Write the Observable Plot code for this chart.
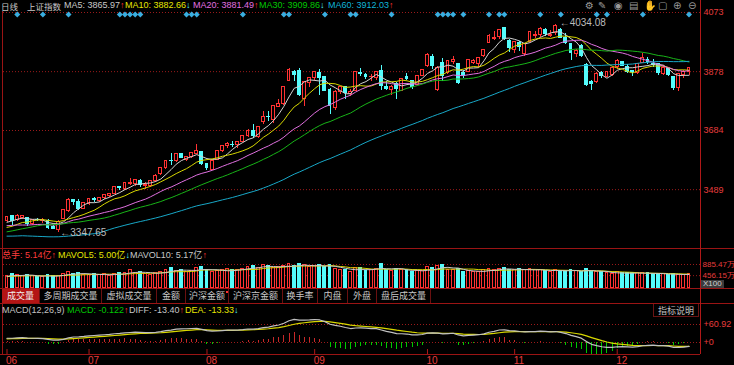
<!DOCTYPE html>
<html><head><meta charset="utf-8">
<script src="https://cdn.jsdelivr.net/npm/d3@7"></script>
<script src="https://cdn.jsdelivr.net/npm/@observablehq/plot@0.6"></script>
<style>
html,body{margin:0;padding:0;background:#000;}
#wrap{position:relative;width:734px;height:365px;overflow:hidden;background:#000;font-family:"Liberation Sans","Noto Sans CJK SC",sans-serif;font-size:9px;color:#c8c8c8;}
.t{position:absolute;white-space:nowrap;line-height:11px}
.ln{position:absolute;background:#9a1414}
.tab{position:absolute;top:289px;height:14px;line-height:14px;text-align:center;color:#c8c8c8;font-family:"Noto Sans CJK SC",sans-serif;font-size:9px;border-right:1px solid #6a1010;box-sizing:border-box}
</style></head>
<body><div id="wrap"></div>
<script>
const dates = [
"2025-06-09","2025-06-10","2025-06-11","2025-06-12","2025-06-13","2025-06-16","2025-06-17","2025-06-18","2025-06-19","2025-06-20","2025-06-23","2025-06-24","2025-06-25","2025-06-26","2025-06-27","2025-06-30",
"2025-07-01","2025-07-02","2025-07-03","2025-07-04","2025-07-07","2025-07-08","2025-07-09","2025-07-10","2025-07-11","2025-07-14","2025-07-15","2025-07-16","2025-07-17","2025-07-18","2025-07-21","2025-07-22","2025-07-23","2025-07-24","2025-07-25","2025-07-28","2025-07-29","2025-07-30","2025-07-31",
"2025-08-01","2025-08-04","2025-08-05","2025-08-06","2025-08-07","2025-08-08","2025-08-11","2025-08-12","2025-08-13","2025-08-14","2025-08-15","2025-08-18","2025-08-19","2025-08-20","2025-08-21","2025-08-22","2025-08-25","2025-08-26","2025-08-27","2025-08-28","2025-08-29",
"2025-09-01","2025-09-02","2025-09-03","2025-09-04","2025-09-05","2025-09-08","2025-09-09","2025-09-10","2025-09-11","2025-09-12","2025-09-15","2025-09-16","2025-09-17","2025-09-18","2025-09-19","2025-09-22","2025-09-23","2025-09-24","2025-09-25","2025-09-26","2025-09-29","2025-09-30",
"2025-10-09","2025-10-10","2025-10-13","2025-10-14","2025-10-15","2025-10-16","2025-10-17","2025-10-20","2025-10-21","2025-10-22","2025-10-23","2025-10-24","2025-10-27","2025-10-28","2025-10-29","2025-10-30","2025-10-31",
"2025-11-03","2025-11-04","2025-11-05","2025-11-06","2025-11-07","2025-11-10","2025-11-11","2025-11-12","2025-11-13","2025-11-14","2025-11-17","2025-11-18","2025-11-19","2025-11-20","2025-11-21","2025-11-24","2025-11-25","2025-11-26","2025-11-27","2025-11-28",
"2025-12-01","2025-12-02","2025-12-03","2025-12-04","2025-12-05","2025-12-08","2025-12-09","2025-12-10","2025-12-11","2025-12-12","2025-12-15","2025-12-16","2025-12-17","2025-12-18","2025-12-19"];

const open = [
3386,3401,3388,3396,3395,3375,3389,3385,3387,3365,3357,3393,3420,3456,3447,3425,
3442,3457,3452,3461,3469,3474,3497,3492,3509,3508,3519,3502,3500,3517,3540,3560,3585,3585,3605,3588,3596,3608,3613,
3572,3555,3588,3617,3633,3637,3637,3646,3665,3684,3661,3712,3730,3720,3763,3771,3848,3877,3879,3789,3841,
3858,3874,3861,3817,3758,3812,3827,3803,3815,3875,3867,3861,3857,3880,3829,3818,3838,3813,3860,3848,3833,3865,
3898,3926,3818,3906,3874,3911,3904,3875,3877,3905,3904,3930,3973,3985,3993,4022,3980,
3950,3974,3935,3975,3995,3999,4016,3995,4005,4015,3989,3968,3935,3962,3900,3845,3845,3872,3860,3867,
3893,3911,3893,3880,3872,3906,3918,3904,3904,3869,3886,3860,3825,3866,3876];

const high = [
3400.5,3404,3408,3404.5,3397,3391,3393,3393,3389,3372,3386,3425,3460,3457,3458,3446,
3459,3462,3462,3474,3476,3497.5,3500,3510,3525,3522,3524,3513,3517,3538,3560,3582,3607,3606,3609,3598,3610,3637,3615,
3574,3583.5,3618,3635,3645,3647,3648,3669,3688,3704,3698,3746,3746,3767,3787,3826,3888,3882,3888,3845,3859,
3876,3886,3862,3821,3816,3829,3829,3818,3876,3888,3872,3868,3876,3899,3844,3831,3842,3853.6,3871,3849,3863,3885,
3937,3936,3894,3923,3913,3927,3905,3882,3916.5,3919,3923,3951,3999,4010,4016.5,4025,3985,
3977,3978,3972,4010,4010,4025,4019,4013,4034.08,4020,4004,3969,3950,3966,3904,3849,3875,3878,3879,3890,
3917,3913,3900,3882,3903,3937,3925,3919,3906,3899,3888,3862,3873,3881,3892];

const low = [
3382,3372,3385,3392,3368,3372,3384,3376,3358,3356,3347.65,3393,3413,3437,3421,3422,
3438,3448,3446,3455,3464,3472,3486,3485,3502,3500,3496,3491,3497,3514,3537,3554,3570,3580,3591,3581,3592,3607,3570,
3553,3552,3585,3613,3624,3627,3626,3644,3660,3658,3658,3705,3713,3706,3760,3766,3847,3845,3796,3763,3827,
3845,3800,3813,3736,3750,3804,3785,3795,3811,3862,3851,3844,3848,3815,3816,3801,3787,3811,3850,3820,3832,3862,
3891,3885,3811,3845,3870,3900,3835,3857,3877,3902,3893,3925,3970,3980,3985,3982,3941,
3938,3945,3928,3975,3988,3991,3993,3990,3998,3986,3966,3915,3925,3926,3830,3815,3840,3857,3859,3862,
3886,3894,3872,3862,3867,3905,3903,3893,3866,3865,3862,3815,3813,3857,3866];

const close = [
3399.77,3384.82,3402.32,3402.66,3377.00,3388.73,3387.40,3388.81,3362.11,3359.90,3381.58,3420.57,3455.97,3448.45,3424.23,3444.43,
3457.75,3454.79,3461.15,3472.32,3473.13,3497.48,3493.05,3509.68,3510.18,3519.65,3505.00,3503.78,3516.83,3534.48,3559.79,3581.86,3582.30,3605.73,3593.66,3597.94,3609.71,3615.72,3573.21,
3559.95,3583.31,3617.60,3633.99,3639.67,3635.13,3647.55,3665.92,3683.46,3666.44,3696.77,3728.03,3727.29,3766.21,3771.10,3825.76,3883.56,3868.38,3800.35,3843.60,3857.93,
3875.53,3858.13,3813.56,3765.88,3812.51,3826.84,3807.29,3812.22,3875.31,3870.60,3860.50,3861.87,3876.34,3831.66,3820.09,3828.58,3821.83,3853.64,3853.30,3828.11,3862.53,3882.78,
3933.97,3897.03,3889.50,3865.23,3912.21,3916.23,3839.76,3863.89,3916.33,3913.76,3922.41,3950.31,3996.94,3988.22,4016.33,3986.90,3954.79,
3976.52,3960.19,3969.25,4007.76,3997.56,4018.60,4002.76,4000.14,4029.50,3990.49,3972.03,3939.81,3946.74,3931.05,3834.89,3836.77,3870.02,3864.18,3875.26,3888.60,
3914.01,3897.71,3878.00,3875.79,3902.81,3924.08,3909.52,3900.50,3873.32,3889.35,3867.92,3824.81,3870.28,3876.37,3890.45];

const volume = [
4.6,5.2,4.8,4.4,5.0,4.3,4.0,4.2,4.7,4.5,4.6,5.3,5.8,5.3,5.4,5.0,
4.9,5.1,4.7,5.2,4.6,5.3,5.6,5.5,6.8,5.7,5.9,5.2,5.0,5.6,6.1,6.6,7.6,6.4,6.7,6.0,6.3,7.5,8.0,
6.6,5.8,6.2,6.6,7.0,6.7,6.8,7.3,7.9,8.4,7.5,8.6,8.3,7.6,7.7,8.3,9.0,8.2,8.9,8.6,7.8,
8.3,8.8,7.8,8.6,7.2,6.6,6.8,6.0,7.6,7.5,6.5,6.6,7.0,9.1,6.9,6.2,7.3,6.7,6.9,5.9,6.3,6.2,
7.8,7.4,8.3,8.5,6.8,6.6,7.2,5.9,6.3,5.9,6.0,6.8,7.3,6.9,7.2,7.4,6.9,
6.6,7.0,6.6,7.1,6.6,6.8,6.3,6.1,6.9,6.5,6.3,6.7,6.2,6.0,7.2,6.5,5.9,5.8,5.5,5.2,
5.8,5.6,5.5,5.4,5.5,5.6,5.5,5.3,5.2,5.1,4.9,5.2,5.0,4.76,5.14];

const priorClose = [
3366.16,3379.83,3371.92,3358.73,3419.56,3426.43,3429.76,3426.43,3408.95,3364.83,3370.03,3369.98,3368.70,3373.75,3351.31,3335.75,
3348.44,3350.13,3342.01,3096.58,3145.55,3186.81,3223.64,3238.23,3262.81,3267.66,3276.00,3280.34,3276.73,3291.43,3299.76,3296.36,3297.29,3295.06,3288.41,3286.65,3279.03,
3316.11,3342.67,3352.00,3341.97,3369.24,3374.87,3403.95,3380.82,3367.46,3367.58,3380.48,3387.57,3380.19,3348.37,3346.84,3340.69,3339.93,3363.45,3347.49,
3361.98,3376.20,3384.10,3385.36];
const priorVolume = [4.0,4.2,3.9,4.1,4.3,4.0,4.4,4.3,4.2];

const markerIdx = [2,7,12,22,23,24,25,26,35,36,37,46,54,55,62,67,68,75,84,85,86,87,89,94,96,97,104,108,115,117,124,133];

const priceTicks = [4073, 3878, 3684, 3489];
const volTicks = [8.8547, 4.5615];
const volTickLabels = ["885.47万", "456.15万"];
const macdTicks = [60.92, 0];
const macdTickLabels = ["+60.92", "+0"];

const maPeriods = [5, 10, 20, 30, 60];
const maColors = ["#d2d2d2", "#d8d800", "#e070e0", "#18b418", "#18a8c8"];
const maTextColors = ["#c8c8c8", "#e6e600", "#e070e0", "#00c800", "#10b4d8"];
const maLabels = ["MA5: 3865.97", "MA10: 3882.66", "MA20: 3881.49", "MA30: 3909.86", "MA60: 3912.03"];
const maArrows = ["↑", "↓", "↑", "↓", "↑"];
const volLabels = ["总手: 5.14亿", "MAVOL5: 5.00亿", "MAVOL10: 5.17亿"];
const volLabelColors = ["#ff3c3c", "#e6e600", "#c8c8c8"];
const volArrows = ["↑", "↓", "↑"];
const macdLabels = ["MACD(12,26,9)", "MACD: -0.122", "DIFF: -13.40", "DEA: -13.33"];
const macdLabelColors = ["#c0c0c0", "#00c800", "#c8c8c8", "#e6e600"];
const macdArrows = ["", "↑", "↑", "↓"];
const tabs = ["成交量","多周期成交量","虚拟成交量","金额","沪深金额","沪深京金额","换手率","内盘","外盘","盘后成交量"];

const UP = "#ff3232", DN = "#54fcfc", RED = "#e63c3c";
const P = priorClose.length;
const allClose = priorClose.concat(close);
const allVol = priorVolume.concat(volume);
const PV = priorVolume.length;
function sma(arr, off, n){ return close.map((_, i) => { const j = i + off; if (j - n + 1 < 0) return null; let s = 0; for (let k = j - n + 1; k <= j; k++) s += arr[k]; return s / n; }); }
function ema(arr, n){ const k = 2/(n+1); const out = []; let e = arr[0]; arr.forEach((v, i) => { e = i === 0 ? v : v*k + e*(1-k); out.push(e); }); return out; }
const mas = maPeriods.map(n => sma(allClose, P, n));
const mavol5 = sma(allVol, PV, 5), mavol10 = sma(allVol, PV, 10);
const e12 = ema(allClose, 12), e26 = ema(allClose, 26);
const diffAll = e12.map((v, i) => v - e26[i]);
const deaAll = ema(diffAll, 9);
const diff = diffAll.slice(P), dea = deaAll.slice(P);
const macd = diff.map((v, i) => 2*(v - dea[i]));

const rows = dates.map((d, i) => ({i, o: open[i], h: high[i], l: low[i], c: close[i], v: volume[i]}));
const upRows = rows.filter(d => d.c >= d.o), dnRows = rows.filter(d => d.c < d.o);
const W = 0.28;
const xScale = {domain: [0, dates.length - 1], range: [6.5, 688.5], axis: null};
const monthIdx = dates.map((d, i) => i).filter(i => i === 0 || dates[i].slice(5,7) !== dates[i-1].slice(5,7));
const lowI = low.indexOf(d3.min(low)), highI = high.indexOf(d3.max(high));
const baseStyle = {background: "transparent", color: RED, fontFamily: "Liberation Sans, Arial, sans-serif", fontSize: "9px", overflow: "visible"};

const wrap = document.getElementById("wrap");
function put(svg, top){ svg.style.position = "absolute"; svg.style.left = "0px"; svg.style.top = top + "px"; wrap.appendChild(svg); }
function txt(x, y, s, color, extra){ const d = document.createElement("div"); d.className = "t"; d.style.left = x + "px"; d.style.top = y + "px"; d.style.color = color; d.textContent = s; if (extra) Object.assign(d.style, extra); wrap.appendChild(d); return d; }
function line(x, y, w, h, c){ const d = document.createElement("div"); d.className = "ln"; Object.assign(d.style, {left: x+"px", top: y+"px", width: w+"px", height: h+"px"}); if (c) d.style.background = c; wrap.appendChild(d); }
function arrowColor(a){ return a === "↑" ? "#ff3232" : "#54fcfc"; }

const main = Plot.plot({
  width: 734, height: 248, marginLeft: 3, marginRight: 34, marginTop: 0, marginBottom: 0,
  x: xScale,
  y: {domain: [3295.0, 4112.56], range: [248, 0], axis: null, label: null},
  style: baseStyle,
  marks: [
    Plot.ruleY(priceTicks, {stroke: "#9a1a1a", strokeDasharray: "1,2"}),
    Plot.axisY(priceTicks, {anchor: "right", tickSize: 0, tickPadding: 3, color: RED, fontSize: 9, label: null, tickFormat: d => String(d)}),
    Plot.ruleX(upRows, {x: "i", y1: "l", y2: "h", stroke: UP, shapeRendering: "crispEdges"}),
    Plot.ruleX(dnRows, {x: "i", y1: "l", y2: "h", stroke: DN, shapeRendering: "crispEdges"}),
    Plot.rect(upRows, {x1: d => d.i - W, x2: d => d.i + W, y1: "o", y2: "c", fill: "#000", stroke: UP, shapeRendering: "crispEdges"}),
    Plot.rect(dnRows, {x1: d => d.i - W, x2: d => d.i + W, y1: "o", y2: "c", fill: DN, stroke: DN, shapeRendering: "crispEdges"}),
    ...mas.map((m, k) => Plot.line(rows, {x: "i", y: d => m[d.i], stroke: maColors[k], strokeWidth: 1})),
    Plot.dot(markerIdx, {x: d => d, frameAnchor: "top", dy: 14, symbol: "diamond2", r: 2.7, fill: "#3aaee0"}),
    Plot.text([lowI], {x: d => d, y: d => low[d], text: d => "←" + low[d].toFixed(2), textAnchor: "start", dx: 2, fill: "#bcbcbc", fontSize: 10}),
    Plot.text([highI], {x: d => d, y: d => high[d], text: d => "←" + high[d].toFixed(2), textAnchor: "start", dx: 4, dy: -2, fill: "#bcbcbc", fontSize: 10})
  ]
});
put(main, 0);

const vol = Plot.plot({
  width: 734, height: 40, marginLeft: 3, marginRight: 34, marginTop: 0, marginBottom: 0,
  x: xScale,
  y: {domain: [0, 15.014], range: [39, 0], axis: null, label: null},
  style: baseStyle,
  marks: [
    Plot.ruleY(volTicks, {stroke: "#9a1a1a", strokeDasharray: "1,2"}),
    Plot.axisY(volTicks, {anchor: "right", tickSize: 0, tickPadding: 2, color: RED, fontSize: 8, label: null, tickFormat: d => volTickLabels[volTicks.indexOf(d)]}),
    Plot.rect(upRows, {x1: d => d.i - W, x2: d => d.i + W, y1: 0, y2: "v", fill: "#000", stroke: UP, shapeRendering: "crispEdges"}),
    Plot.rect(dnRows, {x1: d => d.i - W, x2: d => d.i + W, y1: 0, y2: "v", fill: DN, stroke: DN, shapeRendering: "crispEdges"}),
    Plot.line(rows, {x: "i", y: d => mavol10[d.i], stroke: "#d8d800", strokeWidth: 1}),
    Plot.line(rows, {x: "i", y: d => mavol5[d.i], stroke: "#c8c8c8", strokeWidth: 1})
  ]
});
put(vol, 248);

const mrows = rows.map(d => ({i: d.i, m: macd[d.i]}));
const mac = Plot.plot({
  width: 734, height: 62, marginLeft: 3, marginRight: 34, marginTop: 0, marginBottom: 11,
  x: xScale,
  y: {domain: [-40.61, 132.0], range: [51, 0], axis: null, label: null},
  style: baseStyle,
  marks: [
    Plot.ruleY(macdTicks, {stroke: "#9a1a1a", strokeDasharray: "1,2"}),
    Plot.axisY(macdTicks, {anchor: "right", tickSize: 0, tickPadding: 3, color: RED, fontSize: 9, label: null, tickFormat: d => macdTickLabels[macdTicks.indexOf(d)]}),
    Plot.ruleX(mrows.filter(d => d.m >= 0), {x: "i", y1: 0, y2: "m", stroke: "#c82828", shapeRendering: "crispEdges"}),
    Plot.ruleX(mrows.filter(d => d.m < 0), {x: "i", y1: 0, y2: "m", stroke: "#00c800", shapeRendering: "crispEdges"}),
    Plot.line(rows, {x: "i", y: d => dea[d.i], stroke: "#d8d800", strokeWidth: 1.2}),
    Plot.line(rows, {x: "i", y: d => diff[d.i], stroke: "#c0c0c0", strokeWidth: 1.2}),
    Plot.tickX(monthIdx, {x: d => d, stroke: "#b01818", insetTop: 46}),
    Plot.axisX(monthIdx, {anchor: "bottom", tickSize: 0, tickPadding: 2, textAnchor: "start", dx: -1, color: RED, fontSize: 10, label: null, tickFormat: i => dates[i].slice(5,7)})
  ]
});
put(mac, 303);

line(0, 248, 734, 1);
line(0, 288, 734, 1);
line(0, 303, 734, 1);
line(0, 354, 700, 1);
line(2, 11, 1, 343);
line(700, 0, 1, 354, "#b01818");

txt(1, 1, "日线", "#c8c8c8", {fontFamily: "Noto Sans CJK SC", fontSize: "8.5px"});
txt(27, 1, "上证指数", "#c8c8c8", {fontFamily: "Noto Sans CJK SC", fontSize: "8.5px"});
const maX = [64, 125, 193, 259, 328];
maLabels.forEach((s, k) => {
  const d = txt(maX[k], 0, s, maTextColors[k]);
  const a = document.createElement("span"); a.textContent = maArrows[k]; a.style.color = arrowColor(maArrows[k]); d.appendChild(a);
});
const icons = ["⚙","✎","◉","▤","✋","▢","⊕","⊖"];
const iconX = [585, 598, 614, 629, 644, 658, 673, 688];
icons.forEach((c, k) => txt(iconX[k], 0, c, "#9a9a9a", {fontFamily: "DejaVu Sans", fontSize: "10px", lineHeight: "12px"}));

const volX = [2, 58, 130];
volLabels.forEach((s, k) => {
  const d = txt(volX[k], 250, s, volLabelColors[k], {fontFamily: "Liberation Sans, Noto Sans CJK SC"});
  const a = document.createElement("span"); a.textContent = volArrows[k]; a.style.color = arrowColor(volArrows[k]); d.appendChild(a);
});
txt(701, 280, "X100", "#d0d0d0", {background: "#3c3c3c", padding: "0 2px", lineHeight: "8px", fontSize: "8px"});

const macdX = [2, 67, 129, 185];
macdLabels.forEach((s, k) => {
  const d = txt(macdX[k], 305, s, macdLabelColors[k]);
  if (macdArrows[k]) { const a = document.createElement("span"); a.textContent = macdArrows[k]; a.style.color = arrowColor(macdArrows[k]); d.appendChild(a); }
});

const tabX = [2, 40, 102, 157, 186, 229, 283, 318, 348, 377];
const tabW = [38, 62, 55, 29, 43, 54, 35, 30, 29, 54];
tabs.forEach((s, k) => {
  const d = document.createElement("div"); d.className = "tab"; d.textContent = s;
  d.style.left = tabX[k] + "px"; d.style.width = tabW[k] + "px";
  if (k === 0) { d.style.background = "#b41414"; d.style.color = "#f0f0f0"; }
  wrap.appendChild(d);
});
const dot = document.createElement("div");
Object.assign(dot.style, {position: "absolute", left: "226px", top: "291px", width: "2px", height: "2px", background: "#ff3030"});
wrap.appendChild(dot);

txt(653, 304, "指标说明", "#c0c0c0", {fontFamily: "Noto Sans CJK SC", border: "1px solid #6a1414", borderTop: "none", width: "46px", height: "13px", lineHeight: "13px", textAlign: "center", boxSizing: "border-box"});
</script>
</body></html>
